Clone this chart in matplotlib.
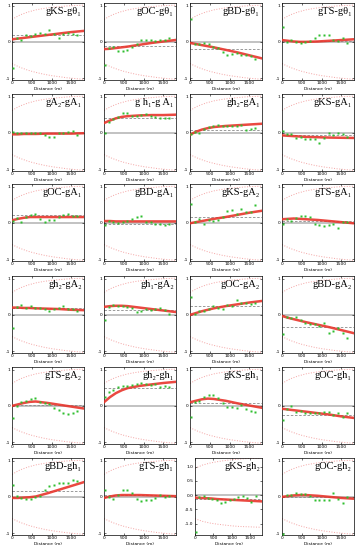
import matplotlib
matplotlib.use('Agg')
import matplotlib.pyplot as plt

# lag distances (m) of the experimental cross-variogram points
lag = [15, 120, 235, 355, 470, 590, 705, 825, 945, 1060, 1180, 1295, 1415, 1530, 1650]
model_x = [0, 150, 300, 450, 600, 900, 1200, 1500, 1800]
env_x = [0, 200, 400, 600, 800, 1000, 1200, 1400, 1600, 1800]
env_up = [0.62, 0.74, 0.82, 0.88, 0.92, 0.95, 0.97, 0.99, 1.0, 1.01]
env_lo = [-0.60, -0.70, -0.78, -0.84, -0.89, -0.93, -0.96, -0.99, -1.01, -1.03]
env23_up = [0.94, 1.05, 1.12, 1.17, 1.21, 1.24, 1.26, 1.28, 1.29, 1.30]
env23_lo = [-0.83, -0.92, -0.98, -1.02, -1.05, -1.08, -1.10, -1.11, -1.12, -1.13]

labels = ['gKS-gθ₁', 'gOC-gθ₁', 'gBD-gθ₁', 'gTS-gθ₁',
          'gA₂-gA₁', 'g h₁-g A₁', 'gh₂-gA₁', 'gKS-gA₁',
          'gOC-gA₁', 'gBD-gA₁', 'gKS-gA₂', 'gTS-gA₁',
          'gh₂-gA₂', 'gh₁-gA₂', 'gOC-gA₂', 'gBD-gA₂',
          'gTS-gA₂', 'gh₂-gh₁', 'gKS-gh₁', 'gOC-gh₁',
          'gBD-gh₁', 'gTS-gh₁', 'gKS-gh₂', 'gOC-gh₂']

sills = [0.20, -0.11, -0.21, 0.02,
         -0.01, 0.42, 0.09, -0.05,
         0.23, -0.04, 0.16, 0.05,
         0.18, 0.13, 0.25, -0.33,
         0.02, 0.48, 0.08, -0.24,
         0.15, 0.06, -0.14, 0.0]

points = [
    [-0.73, 0.11, 0.04, 0.18, 0.16, 0.22, 0.25, 0.22, 0.34, 0.22, 0.11, 0.23, 0.25, 0.22, 0.20],
    [-0.64, -0.17, -0.14, -0.24, -0.24, -0.22, -0.14, -0.07, 0.06, 0.04, 0.04, 0.02, 0.05, 0.04, 0.11],
    [0.63, -0.07, -0.06, -0.03, -0.07, -0.13, -0.17, -0.29, -0.36, -0.33, -0.31, -0.36, -0.37, -0.40, -0.48],
    [0.42, 0.0, 0.04, 0.0, -0.03, 0.0, 0.01, 0.11, 0.19, 0.18, 0.19, 0.04, 0.01, 0.11, -0.03],
    [0.02, -0.01, -0.01, 0.0, -0.01, 0.0, -0.01, -0.05, -0.12, -0.12, -0.01, -0.01, 0.03, 0.05, -0.05],
    [-0.01, 0.30, 0.37, 0.44, 0.54, 0.56, 0.46, 0.46, 0.49, 0.51, 0.46, 0.44, 0.40, 0.40, 0.42],
    [-0.04, 0.01, 0.0, 0.12, 0.16, 0.19, 0.22, 0.19, 0.20, 0.20, 0.18, 0.22, 0.09, 0.10, 0.13],
    [0.06, -0.02, -0.03, -0.14, -0.12, -0.18, -0.18, -0.18, -0.28, -0.14, 0.0, -0.05, 0.0, -0.03, -0.12],
    [0.05, 0.13, 0.03, 0.17, 0.22, 0.24, 0.10, 0.02, 0.09, 0.07, 0.15, 0.22, 0.24, 0.19, 0.20],
    [-0.06, 0.04, 0.02, 0.0, 0.02, 0.04, 0.10, 0.15, 0.19, 0.03, 0.02, -0.04, -0.02, -0.07, -0.03],
    [0.52, 0.02, 0.11, -0.03, 0.07, 0.05, 0.07, 0.16, 0.32, 0.35, 0.25, 0.37, 0.30, 0.30, 0.50],
    [-0.03, 0.12, 0.05, 0.14, 0.20, 0.18, 0.15, -0.03, -0.07, -0.09, -0.06, -0.02, -0.15, 0.02, 0.02],
    [-0.36, 0.23, 0.26, 0.20, 0.24, 0.20, 0.20, 0.15, 0.10, 0.17, 0.20, 0.24, 0.15, 0.15, 0.10],
    [-0.15, 0.22, 0.28, 0.25, 0.25, 0.22, 0.20, 0.08, 0.10, 0.16, 0.14, 0.16, 0.20, 0.14, 0.03],
    [0.50, 0.03, 0.12, 0.10, 0.17, 0.25, 0.20, 0.17, 0.27, 0.25, 0.40, 0.32, 0.33, 0.30, 0.33],
    [-0.53, -0.06, -0.10, -0.07, -0.15, -0.22, -0.24, -0.24, -0.30, -0.22, -0.50, -0.45, -0.36, -0.51, -0.64],
    [-0.33, 0.0, 0.10, 0.13, 0.20, 0.21, 0.10, 0.08, 0.05, -0.05, -0.12, -0.19, -0.22, -0.19, -0.15],
    [0.25, 0.37, 0.45, 0.51, 0.56, 0.56, 0.58, 0.60, 0.63, 0.60, 0.58, 0.60, 0.51, 0.55, 0.51],
    [-0.30, 0.11, 0.14, 0.24, 0.30, 0.31, 0.21, 0.07, -0.03, -0.03, -0.05, 0.02, -0.10, -0.14, -0.17],
    [-0.38, -0.09, 0.01, -0.18, -0.14, -0.21, -0.21, -0.21, -0.21, -0.18, -0.16, -0.24, -0.21, -0.30, -0.21],
    [0.33, 0.02, -0.03, -0.06, -0.05, -0.01, 0.02, 0.20, 0.30, 0.32, 0.37, 0.37, 0.39, 0.47, 0.45],
    [0.18, 0.0, -0.05, 0.05, 0.18, 0.18, 0.10, -0.05, -0.12, -0.10, -0.10, -0.02, 0.05, 0.0, 0.02],
    [-1.31, -0.06, -0.03, -0.11, -0.13, -0.19, -0.28, -0.24, -0.17, -0.14, -0.06, -0.03, -0.11, -0.24, -0.03],
    [-1.02, 0.05, 0.05, 0.10, 0.07, 0.08, 0.02, -0.10, -0.10, -0.10, -0.10, 0.10, -0.05, -0.17, 0.0],
]

# fitted model values at model_x
models = [
    [0.07, 0.09, 0.11, 0.13, 0.15, 0.19, 0.23, 0.27, 0.30],
    [-0.20, -0.19, -0.17, -0.15, -0.13, -0.08, -0.03, 0.01, 0.05],
    [-0.03, -0.06, -0.09, -0.12, -0.15, -0.22, -0.29, -0.37, -0.45],
    [0.05, 0.03, 0.01, 0.0, 0.0, 0.01, 0.03, 0.05, 0.07],
    [-0.04, -0.04, -0.03, -0.03, -0.03, -0.02, -0.02, -0.02, -0.01],
    [0.27, 0.34, 0.40, 0.44, 0.46, 0.48, 0.49, 0.49, 0.50],
    [-0.05, 0.03, 0.09, 0.13, 0.16, 0.19, 0.21, 0.23, 0.25],
    [-0.07, -0.08, -0.09, -0.10, -0.11, -0.12, -0.13, -0.135, -0.14],
    [0.07, 0.11, 0.14, 0.16, 0.16, 0.16, 0.16, 0.16, 0.16],
    [0.05, 0.05, 0.04, 0.04, 0.04, 0.04, 0.04, 0.04, 0.04],
    [-0.01, 0.02, 0.05, 0.08, 0.11, 0.16, 0.22, 0.28, 0.33],
    [0.10, 0.11, 0.12, 0.11, 0.10, 0.08, 0.05, 0.02, -0.01],
    [0.20, 0.20, 0.19, 0.19, 0.18, 0.17, 0.16, 0.14, 0.13],
    [0.22, 0.24, 0.25, 0.25, 0.24, 0.20, 0.16, 0.12, 0.08],
    [0.0, 0.05, 0.10, 0.14, 0.18, 0.24, 0.29, 0.34, 0.38],
    [-0.03, -0.08, -0.12, -0.16, -0.20, -0.27, -0.34, -0.42, -0.50],
    [0.0, 0.04, 0.08, 0.11, 0.12, 0.08, 0.03, -0.02, -0.07],
    [0.10, 0.24, 0.35, 0.43, 0.49, 0.55, 0.59, 0.63, 0.66],
    [0.10, 0.14, 0.18, 0.20, 0.19, 0.14, 0.07, 0.01, -0.05],
    [-0.08, -0.10, -0.12, -0.14, -0.16, -0.20, -0.24, -0.29, -0.33],
    [-0.03, -0.03, -0.02, -0.01, 0.01, 0.10, 0.20, 0.30, 0.40],
    [-0.03, 0.01, 0.04, 0.05, 0.05, 0.05, 0.04, 0.03, 0.02],
    [-0.09, -0.10, -0.11, -0.12, -0.14, -0.16, -0.18, -0.20, -0.22],
    [0.0, 0.02, 0.04, 0.05, 0.05, 0.03, 0.0, -0.03, -0.05],
]

W, H = 358, 550
fig = plt.figure(figsize=(W / 100, H / 100), dpi=100)

col_left = [12, 104, 190, 282]
row_top = [3, 94, 184, 276, 367, 458]
ax_w, ax_h = 72, 77

for i, lab in enumerate(labels):
    r, c = divmod(i, 4)
    left = col_left[c]
    width = ax_w
    if i == 22:
        left += 5
        width -= 5
    ax = fig.add_axes([left / W, 1 - (row_top[r] + ax_h) / H, width / W, ax_h / H])

    ax.axhline(0, color='#bdbdbd', lw=1.3, zorder=1)
    ax.axhline(sills[i], color='#8a8a8a', lw=0.6, ls=(0, (3, 2)), zorder=1)
    if i == 22:
        ax.plot(env_x, env23_up, color='#f4a3a3', lw=0.7, ls=':', zorder=2)
        ax.plot(env_x, env23_lo, color='#f4a3a3', lw=0.7, ls=':', zorder=2)
    else:
        ax.plot(env_x, env_up, color='#f4a3a3', lw=0.7, ls=':', zorder=2)
        ax.plot(env_x, env_lo, color='#f4a3a3', lw=0.7, ls=':', zorder=2)
    ax.plot(model_x, models[i], color='#e8352c', lw=1.8, alpha=0.9, zorder=3)
    ax.plot(lag, points[i], 's', ms=1.5, color='#2fbf2f', mec='none',
            zorder=4, clip_on=False)

    ax.set_xlim(0, 1820)
    ax.set_xticks([0, 500, 1000, 1500])
    if i == 22:
        ax.set_ylim(-1.4, 1.3)
        ax.set_yticks([-1.0, -0.5, 0.0, 0.5, 1.0])
        ax.set_yticklabels(['-1.0', '-0.5', '0.0', '0.5', '1.0'])
    else:
        ax.set_ylim(-1.05, 1.07)
        ax.set_yticks([-1, 0, 1])
        ax.set_yticklabels(['-1', '0', '1'])

    ax.tick_params(labelsize=3.2, length=1.5, width=0.4, pad=1,
                   direction='in', top=True, right=True)
    ax.set_xlabel('Distance (m)', fontsize=3.2, labelpad=1.5)
    for s in ax.spines.values():
        s.set_linewidth(0.5)

    ax.text(0.97, 0.95, lab, transform=ax.transAxes, ha='right', va='top',
            fontsize=7.5, family=['Liberation Serif', 'DejaVu Serif'], zorder=5)

fig.savefig('out.png', dpi=100)
